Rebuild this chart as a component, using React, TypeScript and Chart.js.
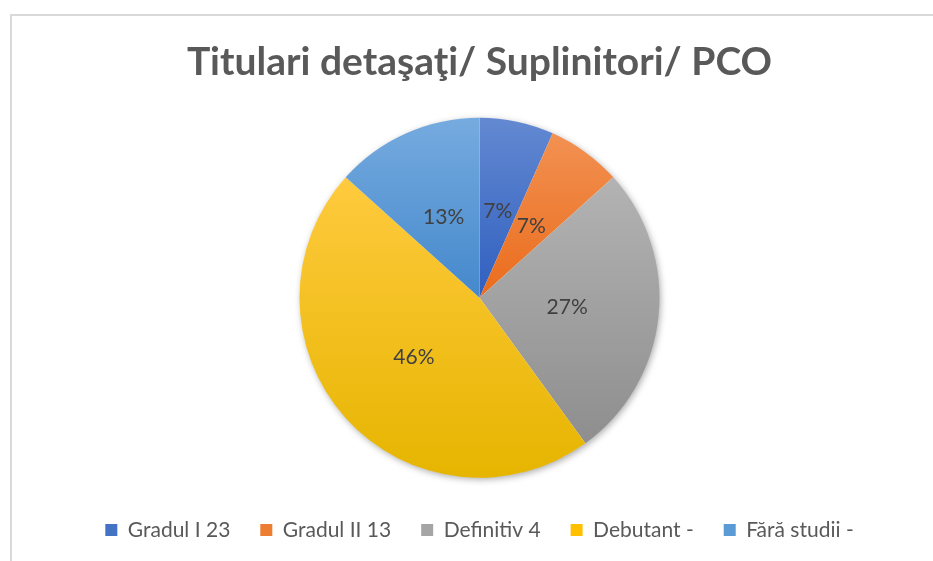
import React, { useEffect, useRef } from "react";
import { Chart, registerables } from "chart.js";

Chart.register(...registerables);

const chartTitle = "Titulari detaşaţi/ Suplinitori/ PCO";
const categories = ["Gradul I 23", "Gradul II 13", "Definitiv 4", "Debutant -", "Fără studii -"];
// slice sizes (about 6.7%, 6.7%, 26.7%, 46.7%, 13.3%)
const values = [1, 1, 4, 7, 2];
// percentage labels as printed on the slices
const percentLabels = ["7%", "7%", "27%", "46%", "13%"];

const legendColors = ["#4472c4", "#ed7d31", "#a5a5a5", "#ffc000", "#5b9bd5"];
const topColors = ["#6389d1", "#f29152", "#b3b3b3", "#ffca3e", "#76abdf"];
const bottomColors = ["#2f5fbf", "#ea6c1c", "#8e8e8e", "#e6b500", "#4488cc"];

const PIE_RADIUS = 180;
const FONT = "Lato, 'Open Sans', sans-serif";

function sliceGradient(ctx: any) {
  const i = ctx.dataIndex ?? 0;
  const chart = ctx.chart;
  const area = chart.chartArea;
  if (!area) return legendColors[i];
  const data: number[] = ctx.dataset.data;
  const total = data.reduce((a, b) => a + b, 0);
  let before = 0;
  for (let k = 0; k < i; k++) before += data[k];
  const a0 = -Math.PI / 2 + (before / total) * 2 * Math.PI;
  const a1 = a0 + (data[i] / total) * 2 * Math.PI;
  const cy = (area.top + area.bottom) / 2;
  const r = PIE_RADIUS;
  const ys = [cy, cy + r * Math.sin(a0), cy + r * Math.sin(a1)];
  for (const c of [-Math.PI / 2, Math.PI / 2, (3 * Math.PI) / 2]) {
    if (c > a0 && c < a1) ys.push(cy + r * Math.sin(c));
  }
  const y0 = Math.min(...ys);
  const y1 = Math.max(...ys);
  const g = chart.ctx.createLinearGradient(0, y0, 0, y1 + 0.01);
  g.addColorStop(0, topColors[i]);
  g.addColorStop(1, bottomColors[i]);
  return g;
}

const shadowPlugin = {
  id: "pieShadow",
  beforeDatasetsDraw(chart: any) {
    const meta = chart.getDatasetMeta(0);
    const arc = meta.data[0];
    if (!arc) return;
    const { x, y, outerRadius } = arc.getProps(["x", "y", "outerRadius"], true);
    const c = chart.ctx;
    c.save();
    c.shadowColor = "rgba(0,0,0,0.35)";
    c.shadowBlur = 7;
    c.shadowOffsetX = 1.5;
    c.shadowOffsetY = 2;
    c.fillStyle = "#ffffff";
    c.beginPath();
    c.arc(x, y, outerRadius - 0.5, 0, Math.PI * 2);
    c.fill();
    c.restore();
  },
};

const labelPlugin = {
  id: "pieLabels",
  afterDatasetsDraw(chart: any) {
    const meta = chart.getDatasetMeta(0);
    const c = chart.ctx;
    c.save();
    c.font = `21px ${FONT}`;
    c.fillStyle = "#404040";
    c.textAlign = "center";
    c.textBaseline = "middle";
    meta.data.forEach((arc: any, i: number) => {
      const { x, y, startAngle, endAngle, outerRadius } = arc.getProps(
        ["x", "y", "startAngle", "endAngle", "outerRadius"],
        true
      );
      const mid = (startAngle + endAngle) / 2;
      const r = outerRadius * 0.49;
      c.fillText(percentLabels[i], x + Math.cos(mid) * r, y + Math.sin(mid) * r);
    });
    c.restore();
  },
};

export default function App() {
  const ref = useRef<HTMLCanvasElement | null>(null);

  useEffect(() => {
    if (!ref.current) return;
    const chart = new Chart(ref.current, {
      type: "pie",
      data: {
        labels: categories,
        datasets: [
          {
            data: values,
            backgroundColor: sliceGradient as any,
            borderWidth: 0,
            radius: PIE_RADIUS,
          } as any,
        ],
      },
      options: {
        animation: false,
        responsive: false,
        layout: { padding: { left: 14, right: 0, top: 0, bottom: 10.5 } },
        plugins: {
          title: {
            display: true,
            text: chartTitle,
            color: "#595959",
            font: { family: FONT, size: 39, weight: "bold" },
            padding: { top: 22.6, bottom: 20.6 },
          },
          legend: {
            position: "bottom",
            labels: {
              color: "#595959",
              font: { family: FONT, size: 21 },
              boxWidth: 12,
              boxHeight: 12,
              padding: 30,
              generateLabels: (ch: any) => {
                const base = (Chart as any).overrides.doughnut.plugins.legend.labels.generateLabels(ch);
                return base.map((it: any, i: number) => ({
                  ...it,
                  fillStyle: legendColors[i],
                  strokeStyle: legendColors[i],
                  lineWidth: 0,
                }));
              },
            },
          },
          tooltip: { enabled: false },
        },
      },
      plugins: [shadowPlugin, labelPlugin],
    });
    return () => chart.destroy();
  }, []);

  return (
    <div
      style={{
        position: "absolute",
        left: 10,
        top: 14,
        width: 921,
        height: 545,
        borderLeft: "2px solid #d9d9d9",
        borderTop: "2px solid #d9d9d9",
        background: "#ffffff",
        overflow: "hidden",
      }}
    >
      <canvas ref={ref} width={921} height={545} style={{ display: "block", width: 921, height: 545 }} />
    </div>
  );
}
